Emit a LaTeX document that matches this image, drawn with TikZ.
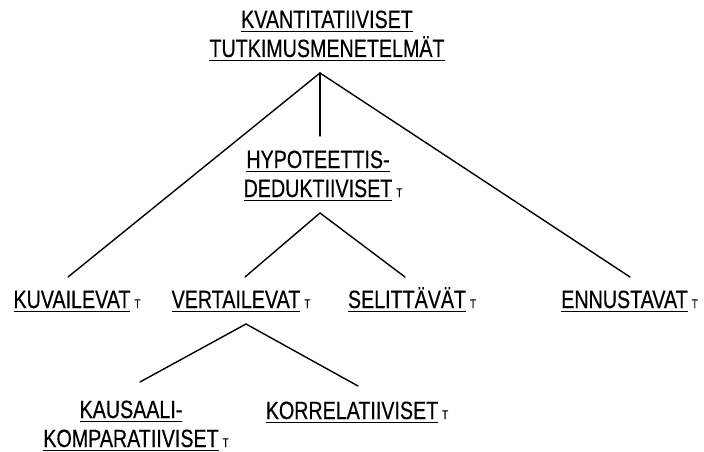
\documentclass[tikz,border=0pt]{standalone}
\usepackage{fontspec}
\setmainfont{Liberation Sans}[FakeStretch=0.787, FakeBold=0.4]
\newcommand\uln[1]{\setbox0=\hbox{#1}\rlap{\rule[-4.3pt]{\wd0}{1.6pt}}\box0}
\newcommand\tmark{\rlap{\hspace{4pt}\fontsize{12.5}{12.5}\selectfont T}}
\begin{document}
\begin{tikzpicture}[x=1pt, y=-1pt,
  term/.style={anchor=base, align=center, inner sep=0pt,
    font=\fontsize{25}{29}\selectfont},
  branch/.style={line width=1.4pt, line cap=round}]
\useasboundingbox (0,0) rectangle (704,452);
% labels (anchored at the baseline of their last line)
\node[term] (root) at (327,57) {\uln{KVANTITATIIVISET}\\\uln{TUTKIMUSMENETELMÄT}};
\node[term] (hyp) at (318,197) {\uln{HYPOTEETTIS-}\\\uln{DEDUKTIIVISET}\tmark};
\node[term] (kuv) at (72,308) {\uln{KUVAILEVAT}\tmark};
\node[term] (ver) at (236,308) {\uln{VERTAILEVAT}\tmark};
\node[term] (sel) at (407,308) {\uln{SELITTÄVÄT}\tmark};
\node[term] (enn) at (624.5,308) {\uln{ENNUSTAVAT}\tmark};
\node[term] (kau) at (131,447) {\uln{KAUSAALI-}\\\uln{KOMPARATIIVISET}\tmark};
\node[term] (kor) at (352,419) {\uln{KORRELATIIVISET}\tmark};
% branches
\draw[branch] ([shift={(-7pt,-16pt)}]root.base) -- ([shift={(-4pt,31pt)}]kuv.base);
\draw[branch] ([shift={(-7pt,-16pt)}]root.base) -- ([shift={(2pt,61pt)}]hyp.base);
\draw[branch] ([shift={(-7pt,-16pt)}]root.base) -- ([shift={(5.5pt,31pt)}]enn.base);
\draw[branch] ([shift={(2pt,-16pt)}]hyp.base) -- ([shift={(9pt,31pt)}]ver.base);
\draw[branch] ([shift={(2pt,-16pt)}]hyp.base) -- ([shift={(-2pt,31pt)}]sel.base);
\draw[branch] ([shift={(10pt,-16pt)}]ver.base) -- ([shift={(9pt,65pt)}]kau.base);
\draw[branch] ([shift={(10pt,-16pt)}]ver.base) -- ([shift={(6pt,33pt)}]kor.base);
\end{tikzpicture}
\end{document}
